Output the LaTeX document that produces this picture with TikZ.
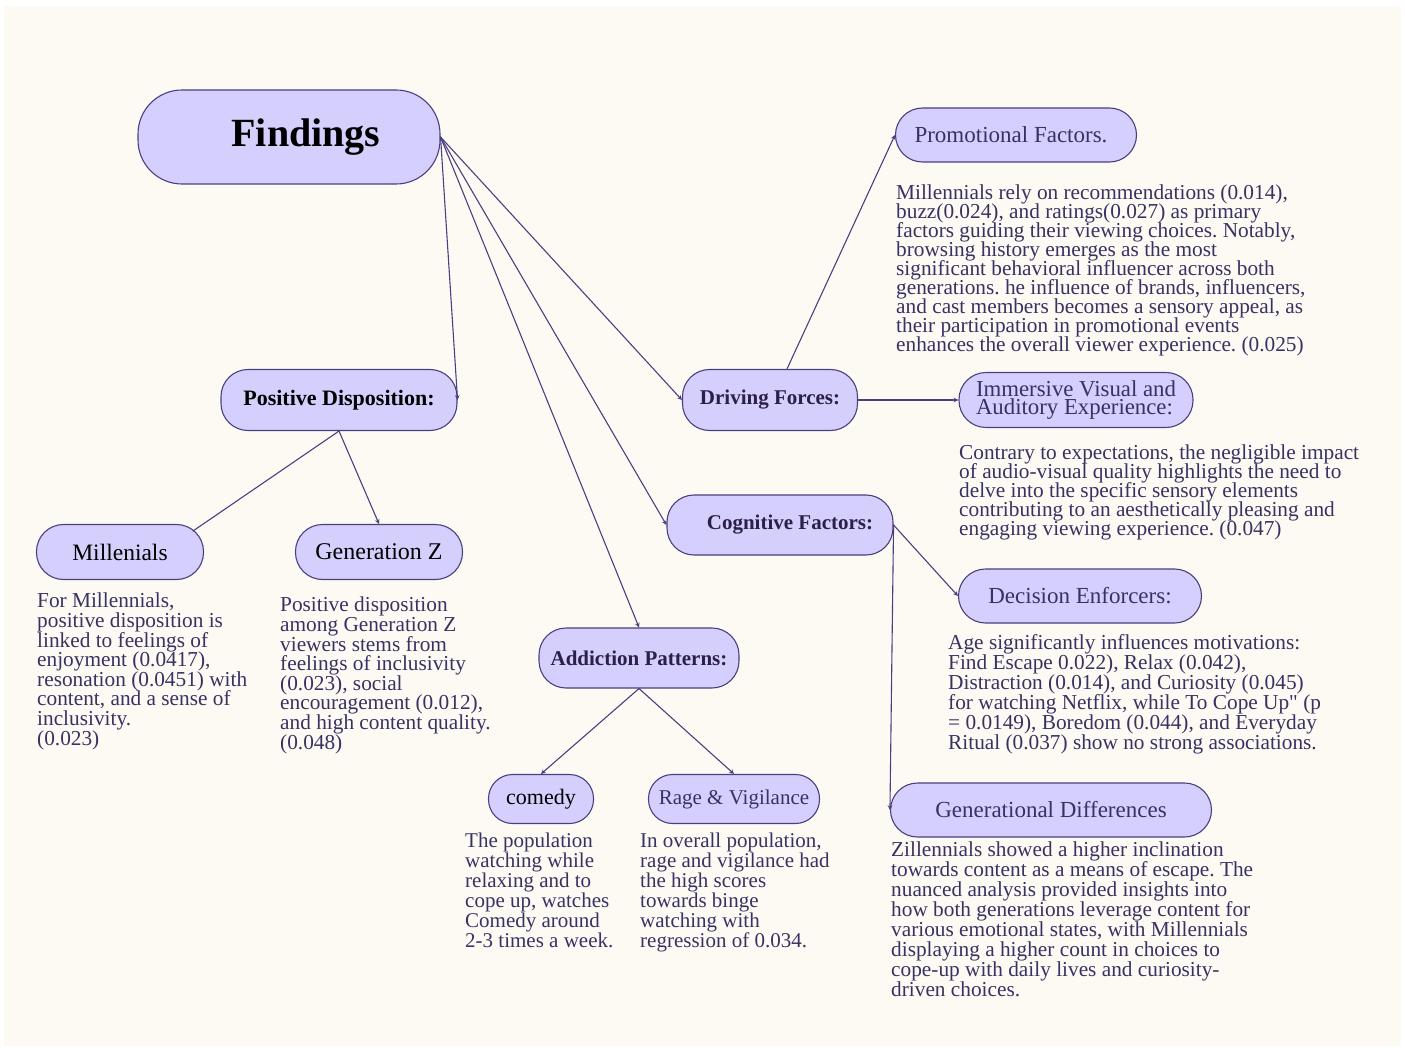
\documentclass[tikz,border=0pt]{standalone}
\usepackage{fontspec}
\setmainfont[Ligatures=TeXOff]{Liberation Serif}
\usepackage{pgf,tikz}
\usetikzlibrary{arrows}
\definecolor{bgcream}{HTML}{FDFAF4}
\definecolor{boxfill}{HTML}{D4CFFC}
\definecolor{boxline}{HTML}{4B407F}
\definecolor{inkpurple}{HTML}{3A3163}
\definecolor{darkpurple}{HTML}{2A2048}
\frenchspacing
\begin{document}
\setlength{\lineskiplimit}{-50pt}
\setlength{\lineskip}{0pt}
\begin{tikzpicture}[line cap=round,line join=round,>=stealth,x=1pt,y=-1pt,
  pill/.style={draw=boxline,fill=boxfill,line width=1.1pt,rounded corners=27pt,
    minimum height=56pt,inner sep=0pt,align=center,font=\fontsize{23}{19}\selectfont},
  headbold/.style={font=\fontsize{21}{19}\selectfont\bfseries},
  desc/.style={anchor=north west,inner sep=0pt,align=left,text=inkpurple,
    font=\fontsize{21.3}{19.6}\selectfont},
  link/.style={->,draw=boxline,line width=1.1pt}]
\useasboundingbox (0,0) rectangle (1405,1048);
\fill[white] (0,0) rectangle (1405,1048);
\fill[bgcream] (4,6) rectangle (1401,1046);
% boxes
\node[pill,minimum width=302pt,minimum height=94pt,rounded corners=44pt,
  font=\fontsize{40}{40}\selectfont\bfseries] (find) at (289,137) {\hspace*{34pt}Findings};
\node[pill,minimum width=241pt,minimum height=54pt,text=inkpurple] (promo) at (1016,135) {\hspace*{-10pt}Promotional Factors.};
\node[pill,minimum width=175pt,minimum height=61pt,headbold,text=darkpurple] (drv) at (770,400) {Driving Forces:};
\node[pill,minimum width=234pt,minimum height=55pt,text=inkpurple,align=left,
  font=\fontsize{22.8}{18}\selectfont] (immv) at (1076,400) {Immersive Visual and\\Auditory Experience:};
\node[pill,minimum width=236pt,minimum height=61pt,headbold,font=\fontsize{22}{19}\selectfont\bfseries] (posd) at (339,400) {Positive Disposition:};
\node[pill,minimum width=226pt,minimum height=60pt,headbold,text=darkpurple] (cogf) at (780,525) {\hspace*{20pt}Cognitive Factors:};
\node[pill,minimum width=243pt,minimum height=54pt,text=inkpurple] (dece) at (1080,596) {Decision Enforcers:};
\node[pill,minimum width=167pt,minimum height=55pt,font=\fontsize{23.5}{19}\selectfont] (mill) at (120,552) {Millenials};
\node[pill,minimum width=167pt,minimum height=55pt,font=\fontsize{24}{19}\selectfont] (genz) at (379,552) {Generation Z};
\node[pill,minimum width=200pt,minimum height=60pt,headbold,text=darkpurple] (addp) at (639,658) {Addiction Patterns:};
\node[pill,minimum width=105pt,minimum height=49pt,rounded corners=24pt,font=\fontsize{22}{19}\selectfont] (comd) at (541,799) {comedy};
\node[pill,minimum width=171pt,minimum height=49pt,rounded corners=24pt,text=inkpurple,font=\fontsize{21}{19}\selectfont] (ragv) at (734,799) {Rage \& Vigilance};
\node[pill,minimum width=321pt,minimum height=54pt,text=inkpurple] (gend) at (1051,810) {Generational Differences};
% texts
\node[desc,font=\fontsize{21.3}{19}\selectfont] (promotxt) at (896,185) {Millennials rely on recommendations (0.014),\\buzz(0.024), and ratings(0.027) as primary\\factors guiding their viewing choices. Notably,\\browsing history emerges as the most\\significant behavioral influencer across both\\generations. he influence of brands, influencers,\\and cast members becomes a sensory appeal, as\\their participation in promotional events\\enhances the overall viewer experience. (0.025)};
\node[desc,font=\fontsize{21.3}{18.8}\selectfont] (immvtxt) at (959,445) {Contrary to expectations, the negligible impact\\of audio-visual quality highlights the need to\\delve into the specific sensory elements\\contributing to an aesthetically pleasing and\\engaging viewing experience. (0.047)};
\node[desc,font=\fontsize{21.3}{20}\selectfont] (decetxt) at (948,634) {Age significantly influences motivations:\\Find Escape 0.022), Relax (0.042),\\Distraction (0.014), and Curiosity (0.045)\\for watching Netflix, while To Cope Up" (p\\= 0.0149), Boredom (0.044), and Everyday\\Ritual (0.037) show no strong associations.};
\node[desc,font=\fontsize{21.3}{19.9}\selectfont] (gendtxt) at (891,842) {Zillennials showed a higher inclination\\towards content as a means of escape. The\\nuanced analysis provided insights into\\how both generations leverage content for\\various emotional states, with Millennials\\displaying a higher count in choices to\\cope-up with daily lives and curiosity-\\driven choices.};
\node[desc] (milltxt) at (37,593) {For Millennials,\\positive disposition is\\linked to feelings of\\enjoyment (0.0417),\\resonation (0.0451) with\\content, and a sense of\\inclusivity.\\(0.023)};
\node[desc] (genztxt) at (280,597) {Positive disposition\\among Generation Z\\viewers stems from\\feelings of inclusivity\\(0.023), social\\encouragement (0.012),\\and high content quality.\\(0.048)};
\node[desc,font=\fontsize{21}{20}\selectfont] (comdtxt) at (465,833) {The population\\watching while\\relaxing and to\\cope up, watches\\Comedy around\\2-3 times a week.};
\node[desc,font=\fontsize{21}{20}\selectfont] (ragvtxt) at (640,833) {In overall population,\\rage and vigilance had\\the high scores\\towards binge\\watching with\\regression of 0.034.};
% links
\draw[link] (find.east) -- (posd.east);
\draw[link] (find.east) -- (drv.west);
\draw[link] (find.east) -- (cogf.west);
\draw[link] (find.east) -- (addp.north);
\draw[link] ([xshift=17pt]drv.north) -- (promo.west);
\draw[link] (drv.east) -- (immv.west);
\draw[link] (cogf.east) -- (dece.west);
\draw[link] (cogf.east) -- (gend.west);
\draw[draw=boxline,line width=1.1pt] (posd.south) -- ([xshift=-11pt,yshift=-7pt]mill.north east);
\draw[link] (posd.south) -- (genz.north);
\draw[link] (addp.south) -- (comd.north);
\draw[link] (addp.south) -- (ragv.north);
\end{tikzpicture}
\end{document}
